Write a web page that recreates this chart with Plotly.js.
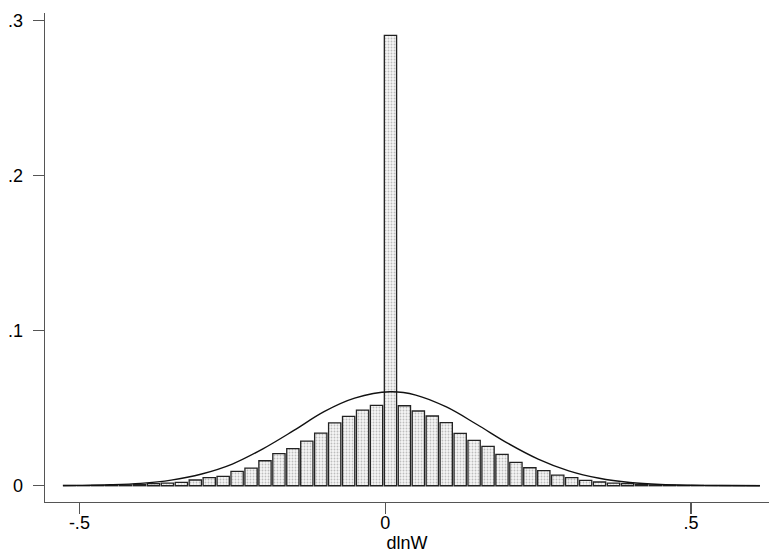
<!DOCTYPE html>
<html>
<head>
<meta charset="utf-8">
<script src="https://cdn.plot.ly/plotly-3.0.1.min.js"></script>
<style>
    html, body { margin: 0; padding: 0; background: #ffffff; }
    #chart { width: 769px; height: 557px; }
</style>
</head>
<body>
<div id="chart"></div>
<script>
// histogram of dlnW: 50 bins starting at the data minimum
const histStart = -0.527;
const binWidth = 0.02279;
const binFractions = [
    0.0001, 0.0001, 0.0002, 0.0003, 0.0005, 0.0008, 0.0013, 0.0017, 0.0022, 0.0037,
    0.0052, 0.0060, 0.0093, 0.0114, 0.0161, 0.0207, 0.0239, 0.0288, 0.0340, 0.0405,
    0.0448, 0.0488, 0.0518, 0.2906, 0.0516, 0.0482, 0.0450, 0.0407, 0.0338, 0.0293,
    0.0254, 0.0202, 0.0151, 0.0116, 0.0097, 0.0069, 0.0052, 0.0035, 0.0024, 0.0017,
    0.0013, 0.0008, 0.0005, 0.0003, 0.0002, 0.0002, 0.0001, 0.0001, 0.0001, 0.0001
];

// normal overlay
const curveX = [-0.527, -0.5, -0.45, -0.4, -0.35, -0.3, -0.25, -0.2, -0.15, -0.1, -0.05, 0.008,
    0.05, 0.1, 0.15, 0.2, 0.25, 0.3, 0.35, 0.4, 0.45, 0.5, 0.55, 0.6127];
const curveY = [0.0001, 0.0002, 0.0006, 0.0015, 0.0036, 0.0076, 0.0140, 0.0238, 0.0355, 0.0478, 0.0565, 0.0606,
    0.0585, 0.0508, 0.0395, 0.0275, 0.0172, 0.0096, 0.0048, 0.0021, 0.0008, 0.0003, 0.0001, 0.00003];

const xTickVals = [-0.5, 0, 0.5];
const xTickText = ['-.5', '0', '.5'];
const yTickVals = [0, 0.1, 0.2, 0.3];
const yTickText = ['0', '.1', '.2', '.3'];

let binCenters = [];
for (let i = 0; i < binFractions.length; i++) {
    binCenters.push(histStart + binWidth * (i + 0.5));
}

let bars = {
    type: 'bar',
    x: binCenters,
    y: binFractions,
    hoverinfo: 'none',
    marker: {
        color: '#eeeeee',
        line: { color: '#222222', width: 1.3 },
        pattern: { shape: '.', fgcolor: '#bdbdbd', bgcolor: '#f6f6f6', size: 3, solidity: 0.3 }
    }
};

let curve = {
    type: 'scatter',
    mode: 'lines',
    x: curveX,
    y: curveY,
    hoverinfo: 'none',
    line: { color: '#111111', width: 1.4, shape: 'spline' }
};

let axisFont = { family: 'Liberation Sans, Arial, sans-serif', size: 18, color: '#000000' };

let layout = {
    width: 769,
    height: 557,
    margin: { l: 45, r: 0, t: 13, b: 55 },
    showlegend: false,
    bargap: 0.12,
    paper_bgcolor: '#ffffff',
    plot_bgcolor: '#ffffff',
    font: axisFont,
    xaxis: {
        range: [-0.5562, 0.6274],
        tickmode: 'array',
        tickvals: xTickVals,
        ticktext: xTickText,
        ticks: 'outside',
        ticklen: 11,
        tickwidth: 1.3,
        tickcolor: '#555555',
        ticklabelstandoff: -7,
        showline: true,
        linecolor: '#555555',
        linewidth: 1.3,
        showgrid: false,
        zeroline: false,
        automargin: false,
        tickfont: axisFont,
        title: { text: 'dlnW', font: axisFont, standoff: 0 }
    },
    yaxis: {
        range: [-0.0105, 0.305],
        tickmode: 'array',
        tickvals: yTickVals,
        ticktext: yTickText,
        ticks: 'outside',
        ticklen: 11,
        tickwidth: 1.3,
        tickcolor: '#555555',
        ticklabelstandoff: 6,
        showline: true,
        linecolor: '#555555',
        linewidth: 1.3,
        showgrid: false,
        zeroline: false,
        automargin: false,
        tickfont: axisFont
    }
};

Plotly.newPlot('chart', [bars, curve], layout, { staticPlot: true });
</script>
</body>
</html>
